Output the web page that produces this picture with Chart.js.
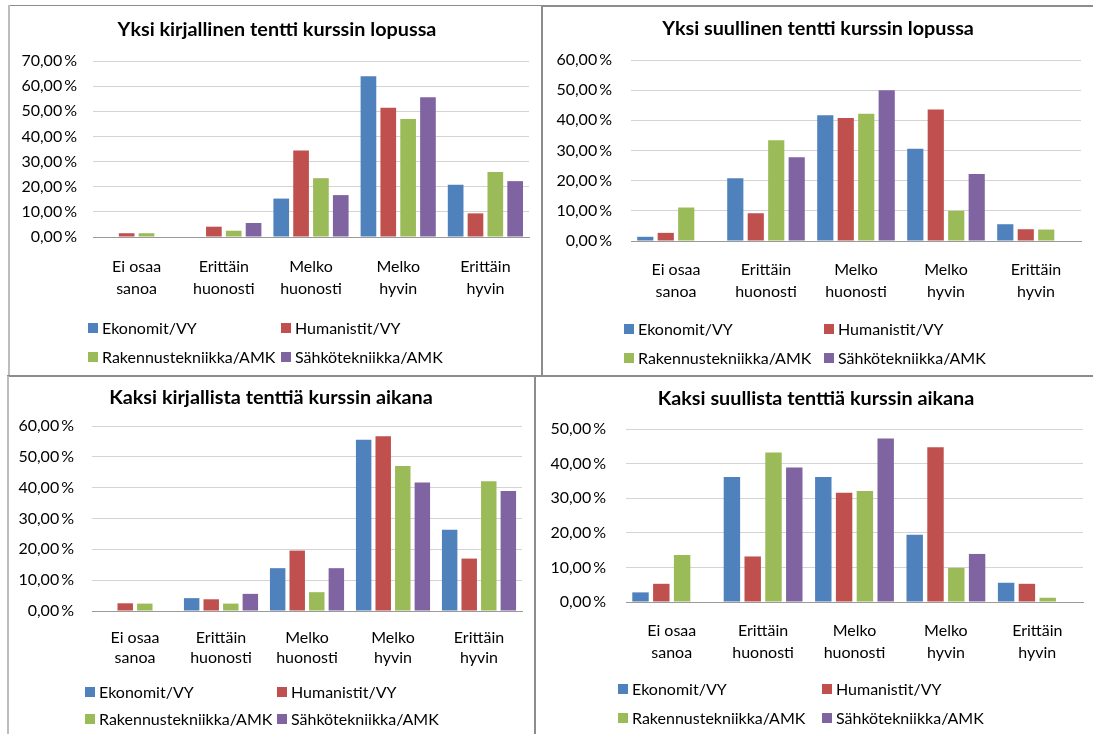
<!DOCTYPE html>
<html lang="fi">
<head>
<meta charset="utf-8">
<title>Tenttimuodot</title>
<script src="https://cdn.jsdelivr.net/npm/chart.js@4/dist/chart.umd.min.js"></script>
<style>
  html, body { margin: 0; padding: 0; background: #fff; }
  body { width: 1093px; height: 734px; position: relative; overflow: hidden; }
  canvas { position: absolute; }
  .rule { position: absolute; }
</style>
</head>
<body>
<div class="rule" style="left:8px;top:5px;width:533px;height:1px;background:#8c8c8c"></div>
<div class="rule" style="left:541px;top:5px;width:552px;height:2px;background:#8c8c8c"></div>
<div class="rule" style="left:8px;top:5px;width:2px;height:370px;background:#bdbdbd"></div>
<div class="rule" style="left:541px;top:5px;width:2px;height:371px;background:#8c8c8c"></div>
<div class="rule" style="left:7px;top:375px;width:1086px;height:2px;background:#8c8c8c"></div>
<div class="rule" style="left:7px;top:376px;width:2px;height:358px;background:#bdbdbd"></div>
<div class="rule" style="left:534px;top:376px;width:2px;height:358px;background:#8c8c8c"></div>

<canvas id="c1"></canvas>
<canvas id="c2"></canvas>
<canvas id="c3"></canvas>
<canvas id="c4"></canvas>

<script>
// Answer categories (two-line axis labels) and respondent groups
const categories = [
  ['Ei osaa', 'sanoa'],
  ['Erittäin', 'huonosti'],
  ['Melko', 'huonosti'],
  ['Melko', 'hyvin'],
  ['Erittäin', 'hyvin']
];
const groups = ['Ekonomit/VY', 'Humanistit/VY', 'Rakennustekniikka/AMK', 'Sähkötekniikka/AMK'];

const chartTitles = [
  'Yksi kirjallinen tentti kurssin lopussa',
  'Yksi suullinen tentti kurssin lopussa',
  'Kaksi kirjallista tenttiä kurssin aikana',
  'Kaksi suullista tenttiä kurssin aikana'
];

// Share of answers (%) per category
const kirjallinenEkonomit     = [0, 0, 15.28, 63.89, 20.83];
const kirjallinenHumanistit   = [1.5, 4.1, 34.4, 51.4, 9.4];
const kirjallinenRakennus     = [1.5, 2.5, 23.4, 46.9, 25.9];
const kirjallinenSahko        = [0, 5.56, 16.67, 55.56, 22.22];

const suullinenEkonomit       = [1.39, 20.83, 41.67, 30.56, 5.56];
const suullinenHumanistit     = [2.7, 9.2, 40.8, 43.6, 3.9];
const suullinenRakennus       = [11.1, 33.4, 42.2, 10.0, 3.8];
const suullinenSahko          = [0, 27.78, 50.0, 22.22, 0];

const kaksiKirjEkonomit       = [0, 4.17, 13.89, 55.56, 26.39];
const kaksiKirjHumanistit     = [2.5, 3.8, 19.6, 56.7, 17.0];
const kaksiKirjRakennus       = [2.4, 2.4, 6.1, 47.0, 42.1];
const kaksiKirjSahko          = [0, 5.56, 13.89, 41.67, 38.89];

const kaksiSuulEkonomit       = [2.78, 36.11, 36.11, 19.44, 5.56];
const kaksiSuulHumanistit     = [5.26, 13.16, 31.58, 44.74, 5.26];
const kaksiSuulRakennus       = [13.58, 43.21, 32.10, 9.88, 1.23];
const kaksiSuulSahko          = [0, 38.89, 47.22, 13.89, 0];

const axisMax = [70, 60, 60, 50];

const groupColors = ['#4f81bd', '#c0504d', '#9bbb59', '#8064a2'];

// Placement of each chart on the page
const panels = [
  { id: 'c1', left: 10,  top: 7,   w: 530, h: 367, series: [kirjallinenEkonomit, kirjallinenHumanistit, kirjallinenRakennus, kirjallinenSahko],
    area: { left: 83, right: 519, top: 54, bottom: 230 }, titleX: 267, titleY: 23, yGap: 16, xFirst: 30, xLine: 22,
    legendRows: [321, 350], legendCols: [78, 271] },
  { id: 'c2', left: 543, top: 8,   w: 550, h: 366, series: [suullinenEkonomit, suullinenHumanistit, suullinenRakennus, suullinenSahko],
    area: { left: 88, right: 538, top: 52, bottom: 233 }, titleX: 275, titleY: 21, yGap: 19, xFirst: 29, xLine: 22,
    legendRows: [321, 350], legendCols: [81, 281] },
  { id: 'c3', left: 9,   top: 378, w: 524, h: 356, series: [kaksiKirjEkonomit, kaksiKirjHumanistit, kaksiKirjRakennus, kaksiKirjSahko],
    area: { left: 83, right: 513, top: 48, bottom: 233 }, titleX: 262, titleY: 20, yGap: 18, xFirst: 27, xLine: 20,
    legendRows: [314, 341], legendCols: [76, 268] },
  { id: 'c4', left: 536, top: 378, w: 557, h: 356, series: [kaksiSuulEkonomit, kaksiSuulHumanistit, kaksiSuulRakennus, kaksiSuulSahko],
    area: { left: 90, right: 547, top: 51, bottom: 224 }, titleX: 280, titleY: 21, yGap: 20, xFirst: 29, xLine: 22,
    legendRows: [311, 340], legendCols: [82, 286] }
];

const X_AXIS_H = 68;
const FONT = 'Lato, "Open Sans", sans-serif';
const TEXT_SIZE = 16;
const TITLE_SIZE = 19.8;

// Bold chart heading centred over the panel
const panelTitle = {
  id: 'panelTitle',
  afterDraw(chart, args, opts) {
    const ctx = chart.ctx;
    ctx.save();
    ctx.font = 'bold ' + TITLE_SIZE + 'px ' + FONT;
    ctx.textAlign = 'center';
    ctx.textBaseline = 'middle';
    ctx.fillStyle = '#000';
    ctx.fillText(opts.text, opts.x, opts.y);
    ctx.restore();
  }
};

// Two-column legend drawn under the plot
const gridLegend = {
  id: 'gridLegend',
  afterDraw(chart, args, opts) {
    const ctx = chart.ctx;
    ctx.save();
    ctx.font = TEXT_SIZE + 'px ' + FONT;
    ctx.textBaseline = 'middle';
    ctx.textAlign = 'left';
    chart.data.datasets.forEach((ds, i) => {
      const x = opts.cols[i % 2];
      const y = opts.rows[Math.floor(i / 2)];
      ctx.fillStyle = ds.backgroundColor;
      ctx.fillRect(x, Math.round(y - 5), 10, 10);
      ctx.fillStyle = '#000';
      ctx.fillText(ds.label, x + 14, y + 0.5);
    });
    ctx.restore();
  }
};

const pct = v => v.toFixed(2).replace('.', ',') + '\u2009%';

panels.forEach((p, idx) => {
  const cv = document.getElementById(p.id);
  cv.width = p.w; cv.height = p.h;
  cv.style.left = p.left + 'px'; cv.style.top = p.top + 'px';
  cv.style.width = p.w + 'px'; cv.style.height = p.h + 'px';

  new Chart(cv, {
    type: 'bar',
    data: {
      labels: categories,
      datasets: groups.map((g, i) => ({
        label: g,
        data: p.series[i],
        backgroundColor: groupColors[i],
        borderWidth: 0,
        categoryPercentage: 0.91,
        barPercentage: 0.79
      }))
    },
    plugins: [panelTitle, gridLegend],
    options: {
      responsive: false,
      animation: false,
      devicePixelRatio: 1,
      layout: { padding: { left: 0, top: p.area.top, right: p.w - p.area.right, bottom: p.h - p.area.bottom - X_AXIS_H } },
      plugins: {
        legend: { display: false },
        tooltip: { enabled: false },
        title: { display: false },
        panelTitle: { text: chartTitles[idx], x: p.titleX, y: p.titleY },
        gridLegend: { rows: p.legendRows, cols: p.legendCols }
      },
      scales: {
        x: {
          grid: { display: false, drawTicks: false },
          border: { display: true, color: '#9a9a9a', width: 1 },
          ticks: {
            color: '#000',
            maxRotation: 0,
            autoSkip: false,
            padding: p.xFirst - p.xLine / 2,
            font: { family: FONT, size: TEXT_SIZE, lineHeight: p.xLine / TEXT_SIZE }
          },
          afterFit(scale) { scale.height = X_AXIS_H; }
        },
        y: {
          min: 0,
          max: axisMax[idx],
          grid: { color: '#d4d4d4', drawTicks: false },
          border: { display: false },
          ticks: {
            stepSize: 10,
            color: '#000',
            padding: p.yGap,
            font: { family: FONT, size: TEXT_SIZE },
            callback: v => pct(v)
          },
          afterFit(scale) { scale.width = p.area.left; }
        }
      }
    }
  });
});
</script>
</body>
</html>
